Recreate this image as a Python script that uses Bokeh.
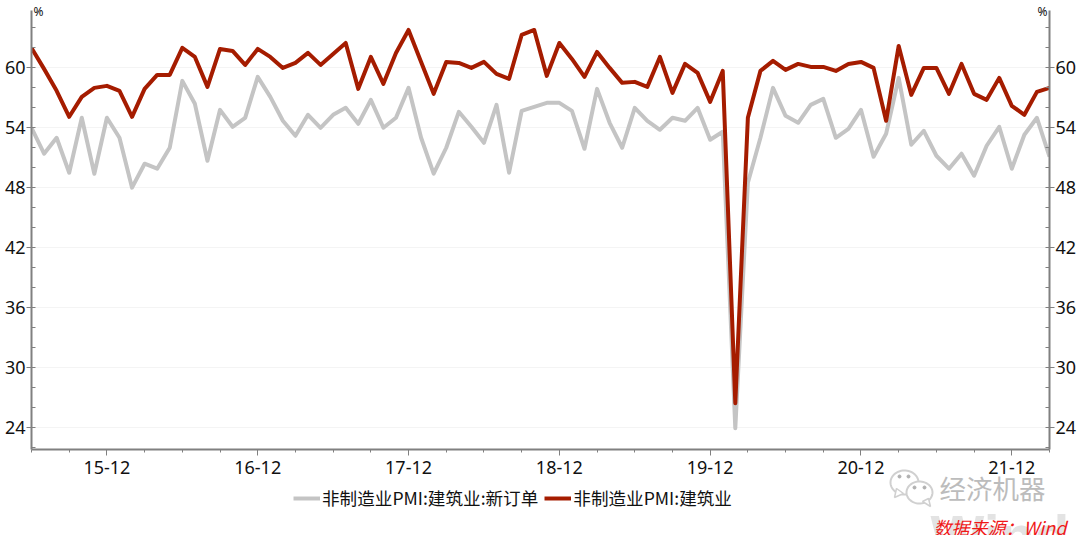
import numpy as np
from bokeh.core.properties import value
from bokeh.embed import file_html
from bokeh.layouts import column
from bokeh.models import ColumnDataSource, FixedTicker, Legend, LegendItem, LinearAxis, Range1d
from bokeh.plotting import figure
from bokeh.resources import INLINE

new_orders = [54.0,51.4,53.0,49.5,55.0,49.4,55.0,53.0,48.0,50.4,49.9,52.0,58.7,56.4,50.7,55.8,54.1,55.0,59.1,57.1,
              54.7,53.2,55.3,54.0,55.3,56.0,54.4,56.8,54.0,55.0,58.0,53.0,49.4,52.0,55.6,54.1,52.5,56.3,49.5,55.7,
              56.1,56.5,56.5,55.7,51.9,57.9,54.5,52.0,56.0,54.7,53.8,55.0,54.7,56.0,52.8,53.6,23.9,48.5,53.0,58.0,
              55.2,54.5,56.3,56.9,53.0,53.9,55.8,51.1,53.4,59.0,52.3,53.7,51.2,49.9,51.4,49.2,52.2,54.1,49.9,53.3,
              55.0,51.1]
construction = [62.0,59.9,57.7,55.1,57.1,58.0,58.2,57.7,55.1,57.9,59.3,59.3,62.0,61.1,58.1,61.9,61.7,60.3,61.9,61.1,
                60.0,60.5,61.5,60.3,61.4,62.5,57.9,61.1,58.4,61.5,63.8,60.6,57.4,60.6,60.5,60.0,60.6,59.4,58.9,63.3,
                63.8,59.2,62.5,60.9,59.1,61.6,60.0,58.5,58.6,58.1,61.1,57.5,60.4,59.5,56.6,59.7,26.4,55.0,59.7,60.7,
                59.8,60.4,60.1,60.1,59.7,60.4,60.6,60.0,54.7,62.2,57.3,60.0,60.0,57.4,60.4,57.4,56.8,59.0,56.2,55.3,
                57.6,58.0]
month_index = list(range(len(new_orders)))
major_x = [6, 18, 30, 42, 54, 66, 78]
tick_labels = ["15-12", "16-12", "17-12", "18-12", "19-12", "20-12", "21-12"]
major_y = [24, 30, 36, 42, 48, 54, 60]
minor_y = [22, 24, 26, 28, 30, 32, 34, 36, 38, 40, 42, 44, 46, 48, 50, 52, 54, 56, 58, 60, 62, 64]
name_orders = "非制造业PMI:建筑业:新订单"
name_total = "非制造业PMI:建筑业"

AXIS = "#808080"
TXT = "#111111"
GRAY = "#c4c4c4"
RED = "#a51c00"
FONT = "Noto Sans"
CJK = "Noto Sans CJK SC"
W, H = 1080, 535

p = figure(width=W, height=H, output_backend="svg", toolbar_location=None,
           x_range=Range1d(0, 81), y_range=Range1d(21.77, 65.75),
           min_border_left=31, min_border_right=31, min_border_top=10, min_border_bottom=86)
p.outline_line_color = None
p.xgrid.visible = False
p.ygrid.ticker = FixedTicker(ticks=major_y)
p.ygrid.grid_line_color = "#f4f4f4"
p.ygrid.grid_line_width = 1

right = LinearAxis()
p.add_layout(right, "right")
for ax in [p.yaxis[0], right]:
    ax.ticker = FixedTicker(ticks=major_y, minor_ticks=minor_y)
    ax.axis_line_color = AXIS
    ax.axis_line_width = 2
    ax.major_tick_line_color = AXIS
    ax.minor_tick_line_color = AXIS
    ax.major_tick_out = 5
    ax.major_tick_in = 0
    ax.minor_tick_out = 0
    ax.minor_tick_in = 4
    ax.major_label_text_font = FONT
    ax.major_label_text_font_size = "18px"
    ax.major_label_text_color = TXT
    ax.major_label_standoff = 1

xa = p.xaxis[0]
xa.ticker = FixedTicker(ticks=major_x, minor_ticks=month_index[::3])
xa.major_label_overrides = dict(zip(major_x, tick_labels))
xa.axis_line_color = AXIS
xa.axis_line_width = 2
xa.major_tick_line_color = AXIS
xa.minor_tick_line_color = AXIS
xa.major_tick_out = 6
xa.major_tick_in = 0
xa.minor_tick_out = 3
xa.minor_tick_in = 0
xa.major_label_text_font = FONT
xa.major_label_text_font_size = "18px"
xa.major_label_text_color = TXT
xa.major_label_standoff = 5

src = ColumnDataSource(dict(x=month_index, a=new_orders, b=construction))
p.line("x", "a", source=src, line_color=GRAY, line_width=4, line_join="round")
p.line("x", "b", source=src, line_color=RED, line_width=4, line_join="round")

# Transparent full-page layer for everything outside the plot frame (its units are page pixels).
o = figure(width=W, height=H, output_backend="svg", toolbar_location=None,
           x_range=Range1d(0, W), y_range=Range1d(H, 0), x_axis_type=None, y_axis_type=None,
           min_border=0, min_border_left=0, min_border_right=0, min_border_top=0, min_border_bottom=0)
o.grid.visible = False
o.outline_line_color = None
o.background_fill_alpha = 0
o.border_fill_alpha = 0


def txt(s, x, y, font, size, color, style="normal", baseline="middle"):
    o.text([x], [y], text=[s], text_font=value(font), text_font_size=value(size), text_color=color,
           text_font_style=style, text_baseline=baseline, text_align="left")


def bubble(cx, cy, rx, ry, tail, eyes):
    t = np.linspace(0, 2 * np.pi, 60)
    o.patch(list(cx + rx * np.cos(t)), list(cy + ry * np.sin(t)), fill_color="white",
            line_color="#d0d0d0", line_width=2)
    o.patch([a for a, _ in tail], [b for _, b in tail], fill_color="white", line_color="#d0d0d0", line_width=1.5)
    o.scatter([a for a, _ in eyes], [b for _, b in eyes], size=3, color="#b0b0b0")


txt("Wind", 930, 535, "Liberation Sans", "57px", "#e3e3e3", style="bold", baseline="alphabetic")
bubble(904, 482, 14, 12, [(896, 488), (894, 497), (903, 493)], [(899, 476), (908, 476)])
bubble(919, 492, 13, 11, [(922, 501), (930, 506), (928, 498)], [(914, 487), (924, 487)])
txt("经济机器", 939, 487, CJK, "26.5px", "#bcbcbc")
txt("数据来源：Wind", 933, 526, CJK, "18px", "#f01818", style="italic")
txt("%", 33, 11, FONT, "12px", TXT)
txt("%", 1037, 11, FONT, "12px", TXT)

nan = float("nan")
r1 = o.line([nan, nan], [nan, nan], line_color=GRAY, line_width=4)
r2 = o.line([nan, nan], [nan, nan], line_color=RED, line_width=4)
legend = Legend(items=[LegendItem(label=name_orders, renderers=[r1]),
                       LegendItem(label=name_total, renderers=[r2])],
                orientation="horizontal", location=(293, 25), background_fill_alpha=0,
                border_line_color=None, padding=0, margin=0, spacing=6,
                glyph_width=27, glyph_height=14, label_standoff=2,
                label_text_font=CJK, label_text_font_size="17.6px", label_text_color=TXT)
o.add_layout(legend, "center")

top = column(o, width=W, height=H, margin=(-H, 0, 0, 0))
page = column(column(p, width=W, height=H), top, spacing=0)
open("out.html", "w").write(file_html(page, INLINE))
